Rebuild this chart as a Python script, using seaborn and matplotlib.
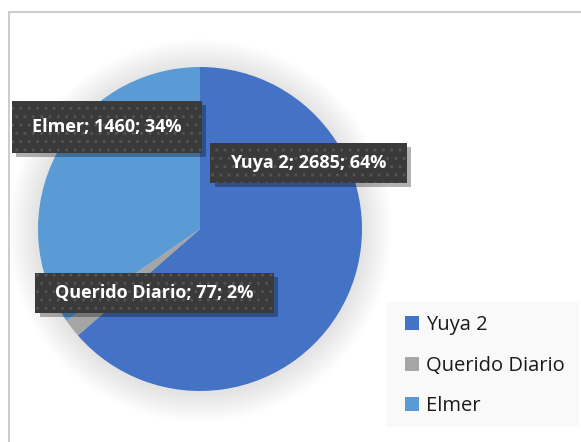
import matplotlib
matplotlib.use("Agg")
import matplotlib.pyplot as plt
import matplotlib.patches as mpatches
import matplotlib.patheffects as pe
from matplotlib.lines import Line2D
import seaborn as sns

categories = ["Yuya 2", "Querido Diario", "Elmer"]
values = [2685, 77, 1460]
percent_labels = ["64%", "2%", "34%"]
colors = ["#4472C4", "#A5A5A5", "#5B9BD5"]
label_pos = [(0.67, 0.41), (-0.28, -0.395), (-0.574, 0.63)]
label_vpad = [12, 12, 18]

sns.set_theme(style="white")
plt.rcParams['font.family'] = ['Open Sans', 'DejaVu Sans']
plt.rcParams['hatch.linewidth'] = 1.0

W, H = 581, 442
fig = plt.figure(figsize=(W / 100, H / 100), dpi=100)
fig.patch.set_facecolor("white")

# chart frame (top and left edges visible)
fig.add_artist(Line2D([9 / W, 1], [1 - 12 / H, 1 - 12 / H], transform=fig.transFigure,
                      color="#c8c8c8", linewidth=1.3))
fig.add_artist(Line2D([9 / W, 9 / W], [0, 1 - 12 / H], transform=fig.transFigure,
                      color="#c8c8c8", linewidth=1.3))
# legend background
fig.patches.append(mpatches.Rectangle((386 / W, 1 - 427 / H), (579 - 386) / W, (427 - 302) / H,
                                      transform=fig.transFigure, facecolor="#f9f9f9", edgecolor="none"))

cx, cy, r = 200, 229, 162
ax = fig.add_axes([(cx - r) / W, 1 - (cy + r) / H, 2 * r / W, 2 * r / H])
ax.patch.set_visible(False)

# soft glow/shadow around the pie
for k in range(14):
    ax.add_patch(mpatches.Circle((0, -0.01), 1.0 + 0.013 * (k + 1), facecolor="#000000",
                                 edgecolor="none", alpha=0.007, zorder=0, clip_on=False))

wedges, _ = ax.pie(values, colors=colors, startangle=90, counterclock=False,
                   wedgeprops=dict(linewidth=0, clip_on=False), frame=False)
ax.set_xlim(-1, 1)
ax.set_ylim(-1, 1)
ax.set_aspect("auto")
ax.axis("off")

texts = []
for cat, v, pct, (x, y) in zip(categories, values, percent_labels, label_pos):
    t = ax.text(x, y, f"{cat}; {v}; {pct}", ha="center", va="center", color="white",
                fontsize=13, fontweight="bold", zorder=10, clip_on=False)
    texts.append(t)

fig.canvas.draw()
renderer = fig.canvas.get_renderer()
inv = ax.transData.inverted()
for t, vp in zip(texts, label_vpad):
    bb = t.get_window_extent(renderer)
    x0, y0 = bb.x0 - 20, bb.y0 - vp + 1
    x1, y1 = bb.x1 + 20, bb.y1 + vp - 1
    (dx0, dy0) = inv.transform((x0, y0))
    (dx1, dy1) = inv.transform((x1, y1))
    base = mpatches.Rectangle((dx0, dy0), dx1 - dx0, dy1 - dy0, facecolor="#3a3a3a",
                              edgecolor="none", zorder=8, clip_on=False)
    base.set_path_effects([pe.SimplePatchShadow(offset=(3, -3), shadow_rgbFace="#000000", alpha=0.3),
                           pe.Normal()])
    ax.add_patch(base)
    hatch = mpatches.Rectangle((dx0, dy0), dx1 - dx0, dy1 - dy0, facecolor="none",
                               edgecolor="#545454", linewidth=0, hatch="..", zorder=9, clip_on=False)
    ax.add_patch(hatch)

handles = [mpatches.Patch(facecolor=c, edgecolor="none") for c in colors]
fig.legend(handles, categories, loc="upper left", bbox_to_anchor=(397 / W, 1 - 307 / H),
           frameon=False, fontsize=14.5, handlelength=0.7, handleheight=0.7,
           handletextpad=0.35, labelspacing=1.02, borderaxespad=0, labelcolor="#1a1a1a")

fig.savefig("out.png", dpi=100)
